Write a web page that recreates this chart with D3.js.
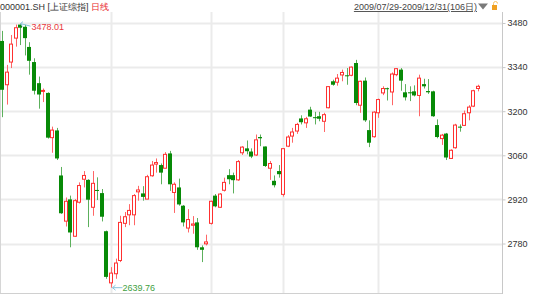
<!DOCTYPE html>
<meta charset="utf-8">
<style>
  body { margin: 0; background: #fff; }
  svg text { font-family: "Liberation Sans", Arial, sans-serif; font-size: 9px; }
</style>
<body>
<div id="chartId"></div>
<script src="https://cdnjs.cloudflare.com/ajax/libs/d3/7.8.5/d3.min.js"></script>
<script>

// data: 000001.SH daily, 2009/07/29 - 2009/12/31
var dates = [
  "07/29","07/30","07/31",
  "08/03","08/04","08/05","08/06","08/07","08/10","08/11","08/12","08/13","08/14",
  "08/17","08/18","08/19","08/20","08/21","08/24","08/25","08/26","08/27","08/28","08/31",
  "09/01","09/02","09/03","09/04","09/07","09/08","09/09","09/10","09/11","09/14","09/15",
  "09/16","09/17","09/18","09/21","09/22","09/23","09/24","09/25","09/28","09/29","09/30",
  "10/09","10/12","10/13","10/14","10/15","10/16","10/19","10/20","10/21","10/22","10/23",
  "10/26","10/27","10/28","10/29","10/30",
  "11/02","11/03","11/04","11/05","11/06","11/09","11/10","11/11","11/12","11/13","11/16",
  "11/17","11/18","11/19","11/20","11/23","11/24","11/25","11/26","11/27","11/30",
  "12/01","12/02","12/03","12/04","12/07","12/08","12/09","12/10","12/11","12/14","12/15",
  "12/16","12/17","12/18","12/21","12/22","12/23","12/24","12/25","12/28","12/29","12/30","12/31"
];

var open = [3423,3284,3356,3432,3475,3468,3404,3356,3289,3263,3258,3116,3139,2996,2851,2920,
  2803,2911,2984,2982,2895,2950,2940,2819,2655,2684,2726,2844,2871,2871,2944,2939,2921,2995,
  3032,3029,3019,3066,2942,2958,2900,2829,2838,2847,2768,2779,2844,2932,2895,2949,2997,2997,
  2982,3068,3082,3072,3061,3118,3088,3019,2979,3010,2936,3089,3121,3137,3177,3163,3205,3181,
  3184,3168,3211,3295,3292,3315,3314,3314,3353,3219,3297,3140,3119,3195,3258,3273,3261,3316,
  3332,3260,3260,3263,3250,3286,3264,3263,3156,3113,3129,3050,3084,3151,3155,3195,3216,3272];

var high = [3455,3347,3442,3475,3478.01,3474,3419,3368,3310,3272,3260,3151,3147,3023,2926,2932,
  2921,2974,3010,2984,3010,2990,2953,2821,2705,2732,2868,2880,2905,2937,2963,2962,2998,3042,
  3050,3034,3070,3074,2974,2986,2902,2889,2867,2861,2774,2808,2916,2937,2940,2989,3016,3005,
  3045,3089,3107,3082,3126,3126,3088,3042,2996,3029,3081,3124,3147,3163,3187,3182,3214,3198,
  3198,3195,3279,3300,3318,3332,3337,3342,3363,3297,3307,3171,3200,3240,3279,3275,3323,3337,
  3337,3286,3279,3282,3316,3303,3302,3265,3174,3128,3131,3079,3160,3158,3202,3219,3268,3284];

var low = [3181,3221,3337,3405,3410,3377,3316,3253,3208,3229,3113,3068,3045,2874,2834,2768,
  2801,2907,2958,2832,2868,2918,2850,2668,2639.76,2668,2721,2832,2838,2838,2916,2916,2921,2992,
  3005,2968,3019,2947,2877,2900,2834,2815,2811,2760,2721,2774,2840,2895,2893,2945,2968,2939,
  2979,3061,3063,3051,3058,3089,3023,2982,2958,2989,2929,3086,3100,3128,3158,3147,3182,3158,
  3168,3134,3209,3281,3281,3295,3284,3311,3219,3195,3166,3086,3116,3179,3251,3234,3219,3311,
  3265,3234,3232,3247,3184,3272,3255,3182,3114,3093,3045,3049,3081,3135,3153,3171,3213,3263];

var close = [3268,3324,3413,3465,3465,3432,3360,3265,3253,3266,3116,3140,3050,2876,2914,2815,
  2916,2964,2996,2919,2971,2947,2865,2674,2686,2718,2847,2865,2885,2932,2950,2928,2992,3029,
  3037,3005,3063,2968,2968,2904,2847,2856,2842,2768,2760,2785,2914,2898,2937,2974,2984,2981,
  3040,3086,3073,3056,3109,3114,3026,3034,2965,3000,3081,3118,3134,3158,3165,3176,3183,3178,
  3176,3189,3278,3284,3305,3323,3312,3340,3226,3295,3171,3100,3197,3237,3272,3270,3318,3335,
  3297,3244,3257,3250,3305,3279,3260,3184,3118,3124,3053,3076,3156,3148,3192,3213,3265,3279];

var yTicks = [3480, 3340, 3200, 3060, 2920, 2780];
var monthStarts = ["09/01", "10/09", "11/02", "12/01"];

var width = 550, height = 295;
var plotTop = 12, plotBottom = 294, plotRight = 502;

var svg = d3.select("#chartId").append("svg")
  .attr("width", width)
  .attr("height", height);

var x = d3.scaleBand()
  .domain(dates)
  .range([0, dates.length * 4.53]);

var y = d3.scaleLinear()
  .domain([2780, 3480])
  .range([243.5, 23]);

function cx(d) {
  return Math.round(x(d) + x.bandwidth() / 2) + 0.5;
}

// grid
svg.append("g").selectAll("line")
  .data(yTicks)
  .enter().append("line")
  .attr("x1", 0).attr("x2", plotRight)
  .attr("y1", function(d) { return Math.round(y(d)) + 0.5; })
  .attr("y2", function(d) { return Math.round(y(d)) + 0.5; })
  .attr("stroke", "#ebebeb")
  .attr("stroke-width", 2);

svg.append("g").selectAll("line")
  .data(monthStarts)
  .enter().append("line")
  .attr("x1", cx).attr("x2", cx)
  .attr("y1", plotTop).attr("y2", plotBottom)
  .attr("stroke", "#ebebeb")
  .attr("stroke-width", 2);

// frame
svg.append("line")
  .attr("x1", 0.5).attr("x2", 0.5).attr("y1", plotTop).attr("y2", plotBottom)
  .attr("stroke", "#d6d6d6");
svg.append("line")
  .attr("x1", 0).attr("x2", plotRight).attr("y1", plotBottom - 0.5).attr("y2", plotBottom - 0.5)
  .attr("stroke", "#d0d0d0");

// right axis
var yAxis = d3.axisRight(y)
  .tickValues(yTicks)
  .tickSize(3)
  .tickPadding(2)
  .tickFormat(d3.format("d"));

var axisG = svg.append("g")
  .attr("transform", "translate(" + (plotRight + 0.5) + ",0)")
  .call(yAxis);
axisG.select(".domain").remove();
axisG.selectAll(".tick line").attr("stroke", "#c8c8c8");
axisG.selectAll(".tick text")
  .attr("fill", "#333")
  .style("font-size", "9px")
  .style("font-family", "Liberation Sans, Arial, sans-serif");
svg.append("line")
  .attr("x1", plotRight + 0.5).attr("x2", plotRight + 0.5)
  .attr("y1", plotTop).attr("y2", plotBottom)
  .attr("stroke", "#c8c8c8");

// candles
var up = "#ff3030", upWick = "#ff6666", down = "#078a07", downWick = "#5cb05c";
var idx = d3.range(dates.length);

var candles = svg.append("g").selectAll("g")
  .data(idx)
  .enter().append("g");

candles.append("line")
  .attr("x1", function(i) { return cx(dates[i]); })
  .attr("x2", function(i) { return cx(dates[i]); })
  .attr("y1", function(i) { return y(high[i]); })
  .attr("y2", function(i) { return y(low[i]); })
  .attr("stroke", function(i) { return close[i] >= open[i] ? upWick : downWick; });

candles.append("rect")
  .attr("x", function(i) {
    return close[i] >= open[i] ? cx(dates[i]) - 2 : cx(dates[i]) - 2.5;
  })
  .attr("width", function(i) { return close[i] >= open[i] ? 3 : 4; })
  .attr("y", function(i) { return y(Math.max(open[i], close[i])); })
  .attr("height", function(i) {
    return Math.max(1, Math.abs(y(open[i]) - y(close[i])));
  })
  .attr("fill", function(i) { return close[i] >= open[i] ? "#fff" : down; })
  .attr("stroke", function(i) { return close[i] >= open[i] ? up : "none"; })
  .attr("stroke-width", 1);

// max / min markers
var hiIdx = d3.maxIndex(high), loIdx = d3.minIndex(low);
var hx = cx(dates[hiIdx]), hy = y(high[hiIdx]);
var lx = cx(dates[loIdx]), ly = y(low[loIdx]);

svg.append("path")
  .attr("d", "M" + hx + "," + hy + "L" + (hx + 10) + "," + (hy + 2.5))
  .attr("stroke", "#88c4dc").attr("fill", "none");
svg.append("path")
  .attr("d", "M" + hx + "," + hy + "L" + (hx + 2.5) + "," + (hy - 2) + "M" + hx + "," + hy + "L" + (hx + 2) + "," + (hy + 3))
  .attr("stroke", "#88c4dc").attr("fill", "none");
svg.append("text")
  .attr("x", hx + 11).attr("y", hy + 6.5)
  .attr("fill", "#e8383d")
  .text(d3.format(".2f")(high[hiIdx]));

svg.append("path")
  .attr("d", "M" + (lx + 1) + "," + ly + "L" + (lx + 11) + "," + ly +
    "M" + (lx + 1) + "," + ly + "L" + (lx + 4) + "," + (ly - 2.5) +
    "M" + (lx + 1) + "," + ly + "L" + (lx + 4) + "," + (ly + 2.5))
  .attr("stroke", "#88c4dc").attr("fill", "none");
svg.append("text")
  .attr("x", lx + 11).attr("y", ly + 3.5)
  .attr("fill", "#3f9f3f")
  .text(d3.format(".2f")(low[loIdx]));

// header
var head = svg.append("text").attr("x", 0).attr("y", 10).attr("fill", "#333");
head.append("tspan").text("000001.SH [上证综指] ");
head.append("tspan").attr("fill", "#e8282d").text("日线");

svg.append("text")
  .attr("x", 477).attr("y", 10)
  .attr("text-anchor", "end")
  .attr("fill", "#444")
  .attr("text-decoration", "underline")
  .text("2009/" + dates[0] + "-2009/" + dates[dates.length - 1] + "(" + dates.length + "日)");

svg.append("path")
  .attr("d", "M478,3.5L488,3.5L483,9.5Z")
  .attr("fill", "#7a7a7a");

// little lock icon
svg.append("path")
  .attr("d", "M493.5,5.5v-2a2,2 0 0 1 4,0")
  .attr("stroke", "#f5c46a").attr("fill", "none");
svg.append("rect")
  .attr("x", 492).attr("y", 5).attr("width", 5).attr("height", 5)
  .attr("fill", "#f0a020");

</script>
</body>
